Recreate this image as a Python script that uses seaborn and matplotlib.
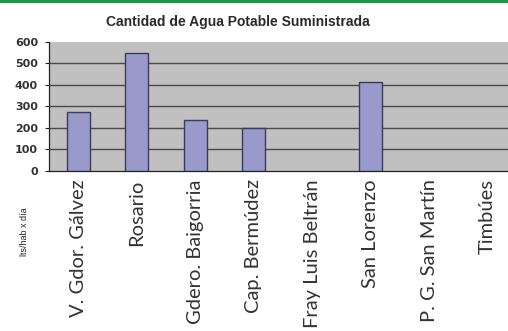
import numpy as np
import pandas as pd
import matplotlib
matplotlib.use("Agg")
import matplotlib.pyplot as plt
import seaborn as sns

localidades = ["V. Gdor. Gálvez", "Rosario", "Gdero. Baigorria", "Cap. Bermúdez",
               "Fray Luis Beltrán", "San Lorenzo", "P. G. San Martín", "Timbúes"]
agua = [274, 549, 236, 198, np.nan, 411, np.nan, np.nan]
y_ticks = [0, 100, 200, 300, 400, 500, 600]

df = pd.DataFrame({"localidad": localidades, "agua": agua})

sns.set_theme(style="white")
fig = plt.figure(figsize=(5.08, 3.31), dpi=100)
ax = fig.add_axes([0.0965, 0.4834, 0.921, 0.391])
ax.set_facecolor("#c0c0c0")

sns.barplot(data=df, x="localidad", y="agua", order=localidades, color="#9999cc",
            saturation=1, width=0.4, edgecolor="#3a3a5a", linewidth=1.0, ax=ax, zorder=3)

ax.set_ylim(0, 600)
ax.set_xlim(-0.5, len(localidades) - 0.5)
ax.set_yticks(y_ticks)
ax.set_yticklabels([str(v) for v in y_ticks], fontsize=8, fontweight="bold",
                   family="DejaVu Sans", color="#333333")
for v in y_ticks[1:-1]:
    ax.axhline(v, color="#4a4a4a", linewidth=1.0, zorder=1)

ax.set_xticks(range(len(localidades)))
ax.set_xticklabels(localidades, rotation=90, fontsize=14.5, family="Lato",
                   fontweight="normal", color="#333333")
ax.tick_params(axis="x", length=0, pad=6)
ax.set_xticks(np.arange(0.5, len(localidades) - 0.5, 1), minor=True)
ax.tick_params(axis="x", which="minor", length=3, direction="inout", color="#444444", width=1)
ax.tick_params(axis="y", length=3, direction="out", color="#222222", width=0.8, pad=5, left=True)
ax.set_xlabel("")
ax.set_ylabel("")

for side in ["top", "right"]:
    ax.spines[side].set_visible(False)
ax.spines["left"].set_color("#222222")
ax.spines["bottom"].set_color("#222222")
ax.spines["left"].set_linewidth(0.9)
ax.spines["bottom"].set_linewidth(0.9)

fig.text(0.4675, 0.935, "Cantidad de Agua Potable Suministrada", ha="center", va="center",
         fontsize=10, fontweight="bold", family="Liberation Sans", color="#2a2a2a")
fig.text(0.049, 0.30, "lts/hab x día", rotation=90, ha="center", va="center",
         fontsize=6.5, family="Liberation Sans", color="#222222")

# green rule along the top edge
fig.add_artist(plt.Line2D([0, 1], [0.997, 0.997], color="#1a9a48", linewidth=2.2,
                          transform=fig.transFigure))

fig.savefig("out.png", dpi=100)
